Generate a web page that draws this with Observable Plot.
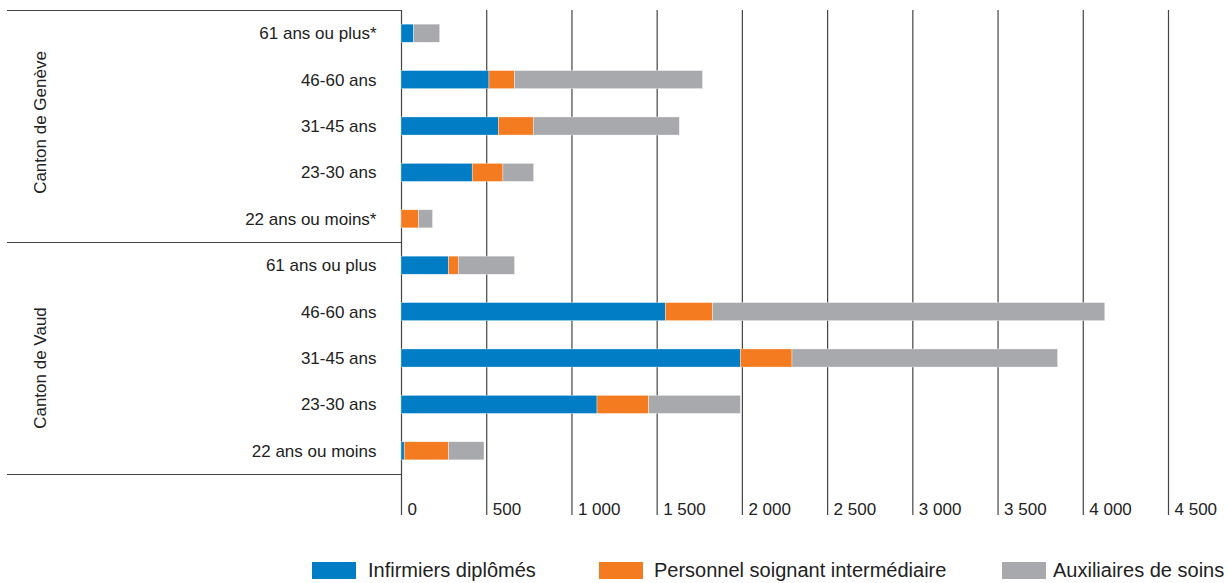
<!DOCTYPE html>
<html>
<head>
<meta charset="utf-8">
<script src="https://cdn.jsdelivr.net/npm/d3@7"></script>
<script src="https://cdn.jsdelivr.net/npm/@observablehq/plot@0.6"></script>
<style>
  body { margin: 0; background: #fff; font-family: "Liberation Sans", Arial, sans-serif; }
  #chart { width: 1228px; height: 530px; }
  #legend { position: relative; width: 1228px; height: 53px; }
  .item { position: absolute; top: 32px; display: flex; align-items: center; font-size: 20px; color: #222; line-height: 17px; }
  .sw { width: 44px; height: 17px; display: inline-block; }
</style>
</head>
<body>
<div id="chart"></div>
<div id="legend"></div>
<script>
// ---- Data ----
const groups = ["Canton de Genève", "Canton de Vaud"];
const geneveAges = ["61 ans ou plus*", "46-60 ans", "31-45 ans", "23-30 ans", "22 ans ou moins*"];
const vaudAges = ["61 ans ou plus", "46-60 ans", "31-45 ans", "23-30 ans", "22 ans ou moins"];
const series = ["Infirmiers diplômés", "Personnel soignant intermédiaire", "Auxiliaires de soins"];
const colors = ["#007DC5", "#F47B20", "#A7A9AC"];

const geneveInfirmiers    = [74, 516, 571, 418, 0];
const geneveIntermediaire = [0, 150, 205, 180, 103];
const geneveAuxiliaires   = [153, 1103, 857, 180, 82];

const vaudInfirmiers    = [279, 1551, 1991, 1150, 19];
const vaudIntermediaire = [57, 276, 303, 303, 260];
const vaudAuxiliaires   = [330, 2302, 1558, 538, 208];

const xTicks = [0, 500, 1000, 1500, 2000, 2500, 3000, 3500, 4000, 4500];

// ---- Build tables ----
const groupAges = [geneveAges, vaudAges];
const groupValues = [
  [geneveInfirmiers, geneveIntermediaire, geneveAuxiliaires],
  [vaudInfirmiers, vaudIntermediaire, vaudAuxiliaires]
];
const rows = [];
const data = [];
const groupInfo = [];
groups.forEach((g, gi) => {
  const start = rows.length;
  groupAges[gi].forEach((label, ai) => {
    const idx = rows.length;
    rows.push({idx, group: g, label});
    series.forEach((s, si) => data.push({idx, group: g, series: s, value: groupValues[gi][si][ai]}));
  });
  const end = rows.length - 1;
  groupInfo.push({group: g, start, end, center: (start + end) / 2});
});
const separators = [-0.5, ...groupInfo.map(d => d.end + 0.5)];
const half = 0.195;
const fmt = d => d3.format(",")(d).replace(/,/g, " ");
const lineColor = "#444";

const chart = Plot.plot({
  width: 1228,
  height: 530,
  marginTop: 10,
  marginBottom: 56,
  marginLeft: 7,
  marginRight: 827,   // frame = label panel (7..401); x scale has its own range
  style: {fontFamily: "Liberation Sans, Arial, sans-serif", fontSize: "17px", color: "#222", background: "#fff"},
  x: {domain: [0, 4500], range: [401, 1168], axis: null},
  y: {domain: [-0.5, rows.length - 0.5], range: [10, 474], axis: null},
  color: {domain: series, range: colors},
  marks: [
    Plot.gridX(xTicks, {stroke: lineColor, strokeOpacity: 1, strokeWidth: 1.2}),
    Plot.axisX({ticks: xTicks, tickSize: 41, tickFormat: () => "", stroke: lineColor, strokeWidth: 1.2, label: null}),
    Plot.axisX({ticks: xTicks, tickSize: 0, tickPadding: 0, tickFormat: fmt, textAnchor: "start",
                dx: 6, dy: 28, fill: "#222", label: null}),
    Plot.ruleY(separators, {stroke: lineColor, strokeWidth: 1.2}),
    Plot.rectX(data, Plot.stackX({
      x: "value",
      y1: d => d.idx - half,
      y2: d => d.idx + half,
      fill: "series",
      order: series,
      stroke: "#fff",
      strokeOpacity: 0.6,
      strokeWidth: 0.6
    })),
    Plot.text(rows, {x: 0, y: "idx", text: "label", textAnchor: "end", dx: -25, fill: "#222"}),
    Plot.text([groupInfo[0]], {y: "center", text: "group", frameAnchor: "left", textAnchor: "middle",
                               dx: 33, dy: -4, rotate: -90, fill: "#222"}),
    Plot.text([groupInfo[1]], {y: "center", text: "group", frameAnchor: "left", textAnchor: "middle",
                               dx: 33, dy: 9.5, rotate: -90, fill: "#222"})
  ]
});
document.getElementById("chart").appendChild(chart);

// ---- Legend ----
const legendLeft = [312, 599, 1002];
const legendGap = [12, 11, 7];
const legend = document.getElementById("legend");
series.forEach((s, i) => {
  const item = document.createElement("div");
  item.className = "item";
  item.style.left = legendLeft[i] + "px";
  const sw = document.createElement("span");
  sw.className = "sw";
  sw.style.background = colors[i];
  sw.style.marginRight = legendGap[i] + "px";
  const t = document.createElement("span");
  t.textContent = s;
  item.appendChild(sw);
  item.appendChild(t);
  legend.appendChild(item);
});
</script>
</body>
</html>
